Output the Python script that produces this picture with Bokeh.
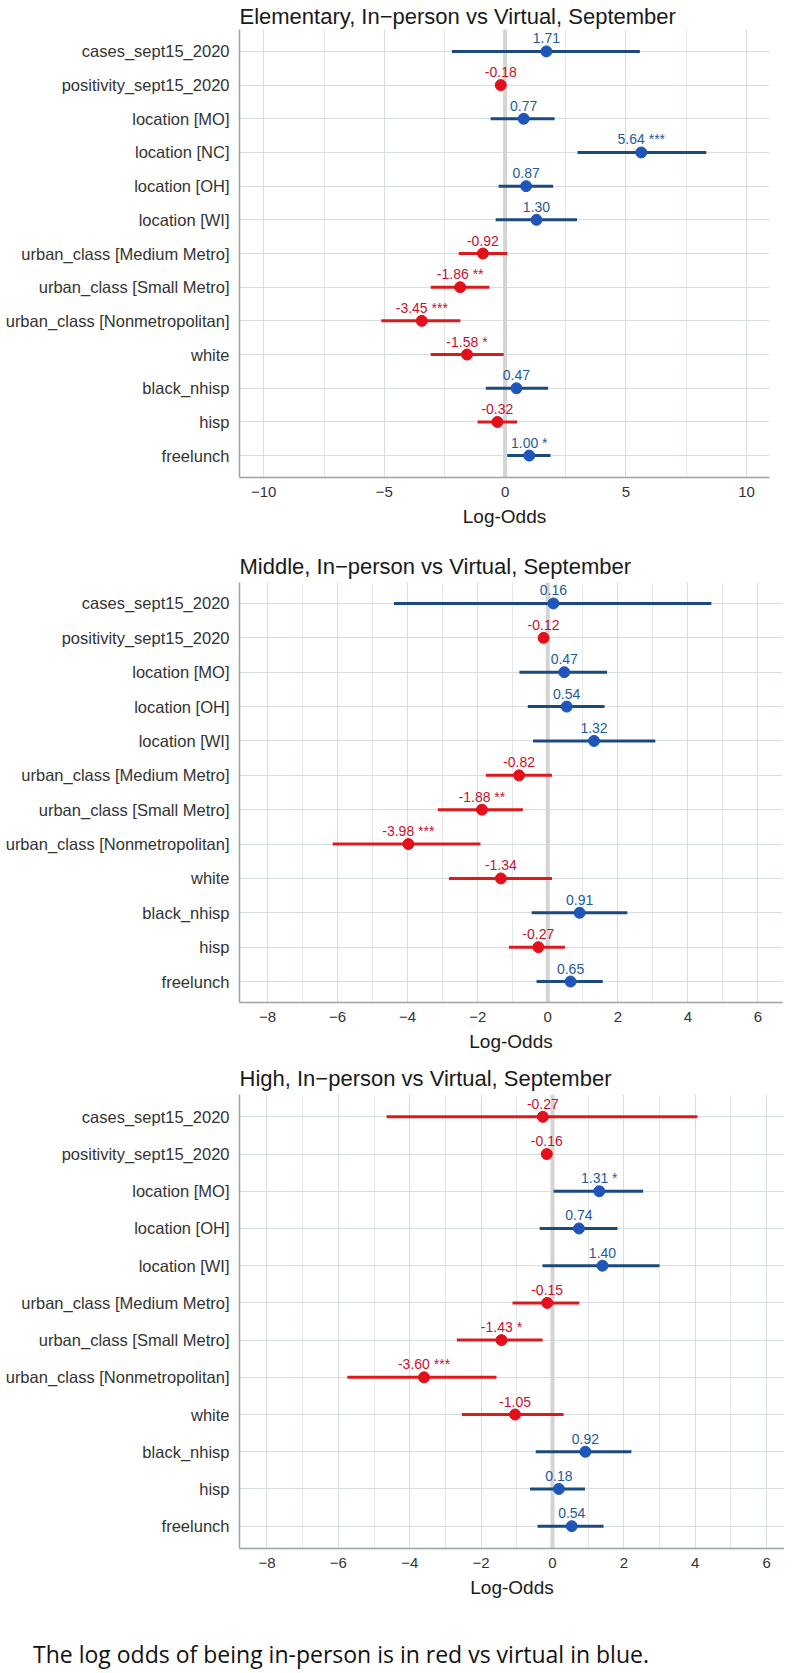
from bokeh.plotting import figure
from bokeh.models import ColumnDataSource, Span, FixedTicker, SingleIntervalTicker, Range1d, Div
from bokeh.layouts import column
from bokeh.core.properties import value
from bokeh.embed import file_html
from bokeh.resources import INLINE

# ---------------- data ----------------
elem_terms = ["cases_sept15_2020", "positivity_sept15_2020", "location [MO]", "location [NC]",
              "location [OH]", "location [WI]", "urban_class [Medium Metro]", "urban_class [Small Metro]",
              "urban_class [Nonmetropolitan]", "white", "black_nhisp", "hisp", "freelunch"]
elem_est = [1.71, -0.18, 0.77, 5.64, 0.87, 1.30, -0.92, -1.86, -3.45, -1.58, 0.47, -0.32, 1.00]
elem_lo = [-2.20, -0.35, -0.60, 3.00, -0.27, -0.39, -1.92, -3.08, -5.13, -3.08, -0.80, -1.14, 0.09]
elem_hi = [5.58, -0.02, 2.05, 8.33, 1.99, 2.98, 0.09, -0.65, -1.85, -0.06, 1.78, 0.50, 1.88]
elem_stars = ["", "", "", "***", "", "", "", "**", "***", "*", "", "", "*"]

mid_terms = ["cases_sept15_2020", "positivity_sept15_2020", "location [MO]", "location [OH]",
             "location [WI]", "urban_class [Medium Metro]", "urban_class [Small Metro]",
             "urban_class [Nonmetropolitan]", "white", "black_nhisp", "hisp", "freelunch"]
mid_est = [0.16, -0.12, 0.47, 0.54, 1.32, -0.82, -1.88, -3.98, -1.34, 0.91, -0.27, 0.65]
mid_lo = [-4.39, -0.25, -0.81, -0.57, -0.42, -1.77, -3.14, -6.14, -2.82, -0.46, -1.11, -0.32]
mid_hi = [4.67, 0.01, 1.69, 1.62, 3.07, 0.12, -0.71, -1.92, 0.12, 2.27, 0.49, 1.57]
mid_stars = ["", "", "", "", "", "", "**", "***", "", "", "", ""]

high_terms = list(mid_terms)
high_est = [-0.27, -0.16, 1.31, 0.74, 1.40, -0.15, -1.43, -3.60, -1.05, 0.92, 0.18, 0.54]
high_lo = [-4.65, -0.30, 0.03, -0.36, -0.28, -1.12, -2.68, -5.75, -2.54, -0.47, -0.63, -0.42]
high_hi = [4.06, -0.02, 2.54, 1.82, 3.00, 0.75, -0.28, -1.57, 0.31, 2.21, 0.91, 1.43]
high_stars = ["", "", "*", "", "", "", "*", "***", "", "", "", ""]

caption = "The log odds of being in-person is in red vs virtual in blue."

BLUE_LINE, BLUE_PT, BLUE_TXT = "#1d4a7e", "#1f55b8", "#1f5a9a"
RED_LINE, RED_PT, RED_TXT = "#dc1a1e", "#e3101c", "#c8102e"
FONT = "Liberation Sans"


def panel(title, terms, est, lo, hi, stars, xr, interval, fw, fh, bl, br, bt, bb, pad, tstand):
    n = len(terms)
    rows = [n - 1 - i for i in range(n)]
    neg = [e < 0 for e in est]
    src = ColumnDataSource(dict(
        y=rows, est=est, lo=lo, hi=hi,
        lab=[("%.2f" % e) + ((" " + s) if s else "") for e, s in zip(est, stars)],
        lc=[RED_LINE if g else BLUE_LINE for g in neg],
        pc=[RED_PT if g else BLUE_PT for g in neg],
        tc=[RED_TXT if g else BLUE_TXT for g in neg],
    ))
    p = figure(frame_width=fw, frame_height=fh, x_range=Range1d(*xr),
               y_range=Range1d(-pad, n - 1 + pad),
               output_backend="svg", toolbar_location=None,
               min_border_left=bl, min_border_right=br, min_border_top=bt, min_border_bottom=bb)
    p.title.text = title
    p.title.align = "left"
    p.title.text_font = FONT
    p.title.text_font_size = "22px"
    p.title.text_font_style = "normal"
    p.title.text_color = "#1a1a1a"
    p.title.standoff = tstand
    p.outline_line_color = None

    p.xaxis.ticker = SingleIntervalTicker(interval=interval, num_minor_ticks=2)
    ticks = [t for t in range(-20, 21) if t % interval == 0 and xr[0] <= t <= xr[1]]
    p.xaxis.major_label_overrides = {t: ("\u2212%d" % -t if t < 0 else "%d" % t) for t in ticks}
    p.xaxis.axis_label = "Log-Odds"
    p.xaxis.axis_label_text_font = FONT
    p.xaxis.axis_label_text_font_size = "19px"
    p.xaxis.axis_label_text_font_style = "normal"
    p.xaxis.axis_label_text_color = "#1a1a1a"
    p.xaxis.axis_label_standoff = 6
    p.xaxis.major_label_standoff = 9

    p.yaxis.ticker = FixedTicker(ticks=rows)
    p.yaxis.major_label_overrides = {r: t for r, t in zip(rows, terms)}
    p.yaxis.major_label_standoff = 10

    for ax in (p.xaxis, p.yaxis):
        ax.major_label_text_font = FONT
        ax.major_label_text_color = "#333333"
        ax.axis_line_color = "#9aa4a4"
        ax.axis_line_width = 1.5
        ax.major_tick_line_color = None
        ax.minor_tick_line_color = None
        ax.major_tick_out = 0
        ax.major_tick_in = 0
        ax.minor_tick_out = 0
        ax.minor_tick_in = 0
    p.xaxis.major_label_text_font_size = "15px"
    p.yaxis.major_label_text_font_size = "16.5px"

    p.xgrid.grid_line_color = "#d6dee0"
    p.xgrid.minor_grid_line_color = "#e3e9ea"
    p.ygrid.grid_line_color = "#d6dee0"

    p.add_layout(Span(location=0, dimension="height", line_color="#d4d4d4", line_width=4,
                      level="underlay"))

    p.segment(x0="lo", x1="hi", y0="y", y1="y", line_color="lc", line_width=3, source=src)
    p.scatter(x="est", y="y", size=11, fill_color="pc", line_color="pc", source=src)
    p.text(x="est", y="y", text="lab", text_color="tc", y_offset=-13,
           text_font=value(FONT), text_font_size="14px",
           text_align="center", text_baseline="middle", source=src)
    return p


p1 = panel("Elementary, In\u2212person vs Virtual, September", elem_terms, elem_est, elem_lo, elem_hi,
           elem_stars, (-11.0, 10.95), 5, 530, 448, 232, 22, 24, 60, 0.65, 2)
p2 = panel("Middle, In\u2212person vs Virtual, September", mid_terms, mid_est, mid_lo, mid_hi,
           mid_stars, (-8.8, 6.7), 2, 543, 420, 237, 4, 45, 50, 0.61, 7)
p3 = panel("High, In\u2212person vs Virtual, September", high_terms, high_est, high_lo, high_hi,
           high_stars, (-8.77, 6.5), 2, 545, 454, 239, 0, 40, 52, 0.6, 8)

cap = Div(text='<div style="padding:36px 0 0 28px; font-family:\'Open Sans\'; font-size:23px; '
               'line-height:26px; color:#111111; white-space:nowrap">' + caption + '</div>',
          width=784, height=64)

layout = column(p1, p2, p3, cap, spacing=0)
open("out.html", "w").write(file_html(layout, INLINE))
